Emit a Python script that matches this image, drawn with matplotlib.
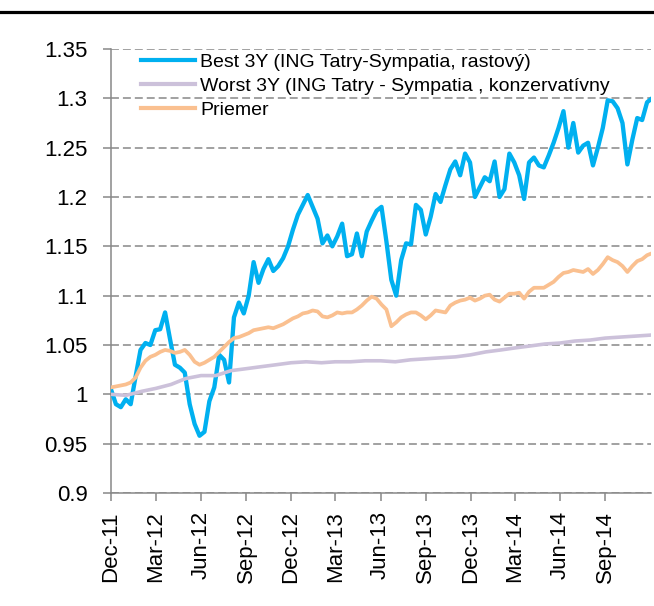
import matplotlib
matplotlib.use("Agg")
import matplotlib.pyplot as plt
from matplotlib.lines import Line2D
import pandas as pd

plt.rcParams['font.family'] = ['Liberation Sans', 'DejaVu Sans']

# series sampled every 10 days from Dec 2011
best = [1.005, 0.99, 0.987, 0.995, 0.99, 1.018, 1.045, 1.052, 1.05, 1.065,
        1.066, 1.083, 1.056, 1.03, 1.027, 1.022, 0.99, 0.97, 0.958, 0.962,
        0.993, 1.007, 1.04, 1.035, 1.012, 1.078, 1.093, 1.082, 1.1, 1.134,
        1.113, 1.127, 1.137, 1.125, 1.13, 1.138, 1.15, 1.167, 1.182, 1.192,
        1.202, 1.19, 1.178, 1.153, 1.161, 1.15, 1.16, 1.173, 1.14, 1.142,
        1.163, 1.14, 1.165, 1.176, 1.186, 1.19, 1.155, 1.116, 1.1, 1.136,
        1.153, 1.152, 1.192, 1.187, 1.162, 1.18, 1.203, 1.195, 1.212, 1.228,
        1.236, 1.222, 1.244, 1.235, 1.2, 1.21, 1.22, 1.216, 1.236, 1.2,
        1.208, 1.244, 1.235, 1.222, 1.198, 1.235, 1.24, 1.232, 1.23, 1.242,
        1.255, 1.27, 1.287, 1.25, 1.275, 1.245, 1.252, 1.255, 1.232, 1.25,
        1.27, 1.298, 1.297, 1.29, 1.275, 1.233, 1.258, 1.28, 1.278, 1.296, 1.3]

priemer = [1.007, 1.008, 1.009, 1.01, 1.012, 1.017, 1.027, 1.034, 1.038, 1.04,
           1.043, 1.045, 1.044, 1.042, 1.043, 1.045, 1.04, 1.033, 1.03, 1.032,
           1.035, 1.038, 1.043, 1.048, 1.053, 1.057, 1.058, 1.06, 1.062, 1.065,
           1.066, 1.067, 1.068, 1.067, 1.069, 1.071, 1.074, 1.077, 1.079, 1.082,
           1.083, 1.085, 1.084, 1.079, 1.078, 1.08, 1.083, 1.082, 1.083, 1.083,
           1.086, 1.09, 1.095, 1.099, 1.097, 1.091, 1.086, 1.069, 1.073, 1.078,
           1.081, 1.083, 1.083, 1.08, 1.076, 1.08, 1.085, 1.084, 1.083, 1.09,
           1.093, 1.095, 1.096, 1.098, 1.095, 1.097, 1.1, 1.101, 1.096, 1.094,
           1.098, 1.102, 1.102, 1.103, 1.097, 1.104, 1.108, 1.108, 1.108, 1.111,
           1.114, 1.119, 1.123, 1.124, 1.126, 1.125, 1.124, 1.127, 1.122, 1.126,
           1.132, 1.139, 1.136, 1.134, 1.13, 1.124, 1.13, 1.135, 1.137, 1.141, 1.143]

# monthly
worst = [1.0, 0.999, 1.003, 1.006, 1.01, 1.016, 1.019, 1.019, 1.024, 1.026,
         1.028, 1.03, 1.032, 1.033, 1.032, 1.033, 1.033, 1.034, 1.034, 1.033,
         1.035, 1.036, 1.037, 1.038, 1.04, 1.043, 1.045, 1.047, 1.049, 1.051,
         1.052, 1.054, 1.055, 1.057, 1.058, 1.059, 1.06]

labels = ['Best 3Y (ING Tatry-Sympatia, rastový)',
          'Worst 3Y (ING Tatry - Sympatia , konzervatívny',
          'Priemer']
colors = ['#00B0F0', '#CCC1DA', '#FAC090']

x_labels = ['Dec-11', 'Mar-12', 'Jun-12', 'Sep-12', 'Dec-12', 'Mar-13',
            'Jun-13', 'Sep-13', 'Dec-13', 'Mar-14', 'Jun-14', 'Sep-14']
y_ticks = [0.9, 0.95, 1.0, 1.05, 1.1, 1.15, 1.2, 1.25, 1.3, 1.35]
y_labels = ['0.9', '0.95', '1', '1.05', '1.1', '1.15', '1.2', '1.25', '1.3', '1.35']

d10 = pd.date_range('2011-12-01', periods=len(best), freq='10D')
dm = pd.date_range('2011-12-01', periods=len(worst), freq='MS')
x_ticks = pd.date_range('2011-12-01', periods=len(x_labels), freq='3MS')

fig = plt.figure(figsize=(6.54, 6.06), dpi=100)
ax = fig.add_axes([111 / 654, 113 / 606, 540 / 654, 444 / 606])

ax.plot(d10, best, color=colors[0], lw=3.1, label=labels[0], zorder=3)
ax.plot(dm, worst, color=colors[1], lw=2.6, label=labels[1], zorder=3)
ax.plot(d10, priemer, color=colors[2], lw=2.7, label=labels[2], zorder=3)

ax.set_xlim(pd.Timestamp('2011-12-01'), pd.Timestamp('2014-12-03'))
ax.set_ylim(0.9, 1.35)
ax.set_yticks(y_ticks)
ax.set_yticklabels(y_labels, fontsize=16)
ax.set_xticks(x_ticks)
ax.set_xticklabels(x_labels, rotation=90, fontsize=16)

grid = '#888888'
ax.yaxis.grid(True, color=grid, lw=1.1, linestyle=(0, (5.2, 2.6)))
ax.set_axisbelow(True)
for s in ['top', 'right']:
    ax.spines[s].set_visible(False)
for s in ['left', 'bottom']:
    ax.spines[s].set_color(grid)
    ax.spines[s].set_linewidth(1.1)
ax.tick_params(axis='y', length=6, width=1.1, color=grid, pad=11)
ax.tick_params(axis='x', length=6, width=1.1, color=grid, pad=7)

leg = ax.legend(loc='upper left', bbox_to_anchor=(0.055, 0.991), frameon=False,
                fontsize=14, handlelength=2.8, handletextpad=0.25,
                labelspacing=0.33, borderpad=0, borderaxespad=0)
for h in leg.get_lines():
    h.set_linewidth(3)

# black rule across the top
fig.add_artist(Line2D([0, 1], [1 - 12 / 606, 1 - 12 / 606], color='black', lw=2.3,
                      transform=fig.transFigure))

fig.savefig('out.png', dpi=100)
